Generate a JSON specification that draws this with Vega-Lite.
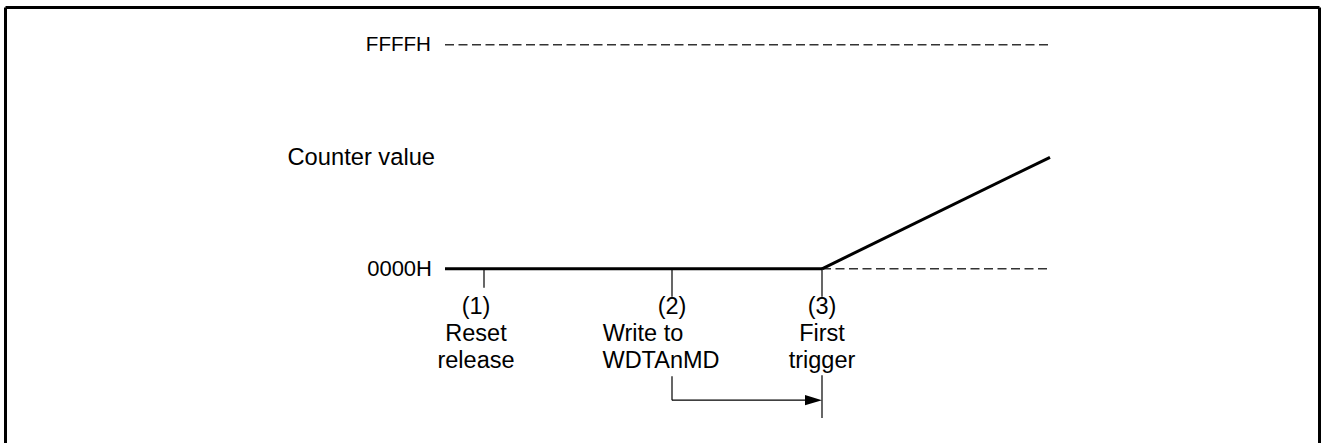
{
  "$schema": "https://vega.github.io/schema/vega-lite/v6.json",
  "width": 1322,
  "height": 445,
  "padding": 0,
  "autosize": {"type": "fit", "contains": "padding"},
  "background": "white",
  "config": {"view": {"stroke": null}},
  "encoding": {
    "x": {"field": "x", "type": "quantitative", "scale": {"domain": [0, 1322], "nice": false, "zero": false}, "axis": null},
    "y": {"field": "y", "type": "quantitative", "scale": {"domain": [0, 445], "nice": false, "zero": false, "reverse": true}, "axis": null}
  },
  "layer": [
    {
      "data": {"values": [
        {"part": "frame left", "x": 5.5, "y": 7.5, "x2": 5.5, "y2": 445},
        {"part": "frame top", "x": 5.5, "y": 7.5, "x2": 1319.5, "y2": 7.5},
        {"part": "frame right", "x": 1319.5, "y": 7.5, "x2": 1319.5, "y2": 445}
      ]},
      "mark": {"type": "rule", "stroke": "black", "strokeWidth": 3},
      "encoding": {"x2": {"field": "x2"}, "y2": {"field": "y2"}}
    },
    {
      "data": {"values": [
        {"part": "FFFFH level", "x": 445, "y": 45, "x2": 1050, "y2": 45},
        {"part": "0000H level", "x": 822, "y": 270, "x2": 1050, "y2": 270}
      ]},
      "mark": {"type": "rule", "stroke": "#333333", "strokeWidth": 1.5, "strokeDash": [9, 4.5]},
      "encoding": {"x2": {"field": "x2"}, "y2": {"field": "y2"}}
    },
    {
      "data": {"values": [
        {"part": "tick 1", "x": 484, "y": 270, "x2": 484, "y2": 289},
        {"part": "tick 2", "x": 672, "y": 270, "x2": 672, "y2": 298},
        {"part": "tick 3", "x": 822, "y": 270, "x2": 822, "y2": 298},
        {"part": "arrow down", "x": 672, "y": 378, "x2": 672, "y2": 402},
        {"part": "arrow across", "x": 672, "y": 402, "x2": 810, "y2": 402},
        {"part": "trigger mark", "x": 822, "y": 377, "x2": 822, "y2": 420}
      ]},
      "mark": {"type": "rule", "stroke": "black", "strokeWidth": 1.2},
      "encoding": {"x2": {"field": "x2"}, "y2": {"field": "y2"}}
    },
    {
      "data": {"values": [
        {"part": "counter held", "x": 445, "y": 270, "x2": 822, "y2": 270},
        {"part": "counter counting", "x": 822, "y": 270, "x2": 1050, "y2": 158}
      ]},
      "mark": {"type": "rule", "stroke": "black", "strokeWidth": 3, "strokeCap": "butt"},
      "encoding": {"x2": {"field": "x2"}, "y2": {"field": "y2"}}
    },
    {
      "data": {"values": [{"part": "arrow head", "x": 822, "y": 402}]},
      "mark": {"type": "point", "shape": "M0,0L-2,-0.6L-2,0.6Z", "size": 289, "filled": true, "fill": "black", "strokeWidth": 0, "opacity": 1}
    },
    {
      "data": {"values": [
        {"text": "FFFFH", "x": 431, "y": 51}
      ]},
      "mark": {"type": "text", "align": "right", "baseline": "alphabetic", "font": "Liberation Sans", "fontSize": 20.6, "fill": "black"},
      "encoding": {"text": {"field": "text"}}
    },
    {
      "data": {"values": [
        {"text": "0000H", "x": 432, "y": 277}
      ]},
      "mark": {"type": "text", "align": "right", "baseline": "alphabetic", "font": "Liberation Sans", "fontSize": 22, "fill": "black"},
      "encoding": {"text": {"field": "text"}}
    },
    {
      "data": {"values": [
        {"text": "Counter value", "x": 435, "y": 166}
      ]},
      "mark": {"type": "text", "align": "right", "baseline": "alphabetic", "font": "Liberation Sans", "fontSize": 23.7, "fill": "black"},
      "encoding": {"text": {"field": "text"}}
    },
    {
      "data": {"values": [
        {"text": "(1)", "x": 476, "y": 315},
        {"text": "Reset", "x": 476, "y": 343},
        {"text": "release", "x": 476, "y": 370},
        {"text": "(2)", "x": 672, "y": 315},
        {"text": "Write to", "x": 643, "y": 343},
        {"text": "WDTAnMD", "x": 661, "y": 370},
        {"text": "(3)", "x": 822, "y": 315},
        {"text": "First", "x": 822, "y": 343},
        {"text": "trigger", "x": 822, "y": 370}
      ]},
      "mark": {"type": "text", "align": "center", "baseline": "alphabetic", "font": "Liberation Sans", "fontSize": 23.5, "fill": "black"},
      "encoding": {"text": {"field": "text"}}
    }
  ]
}
